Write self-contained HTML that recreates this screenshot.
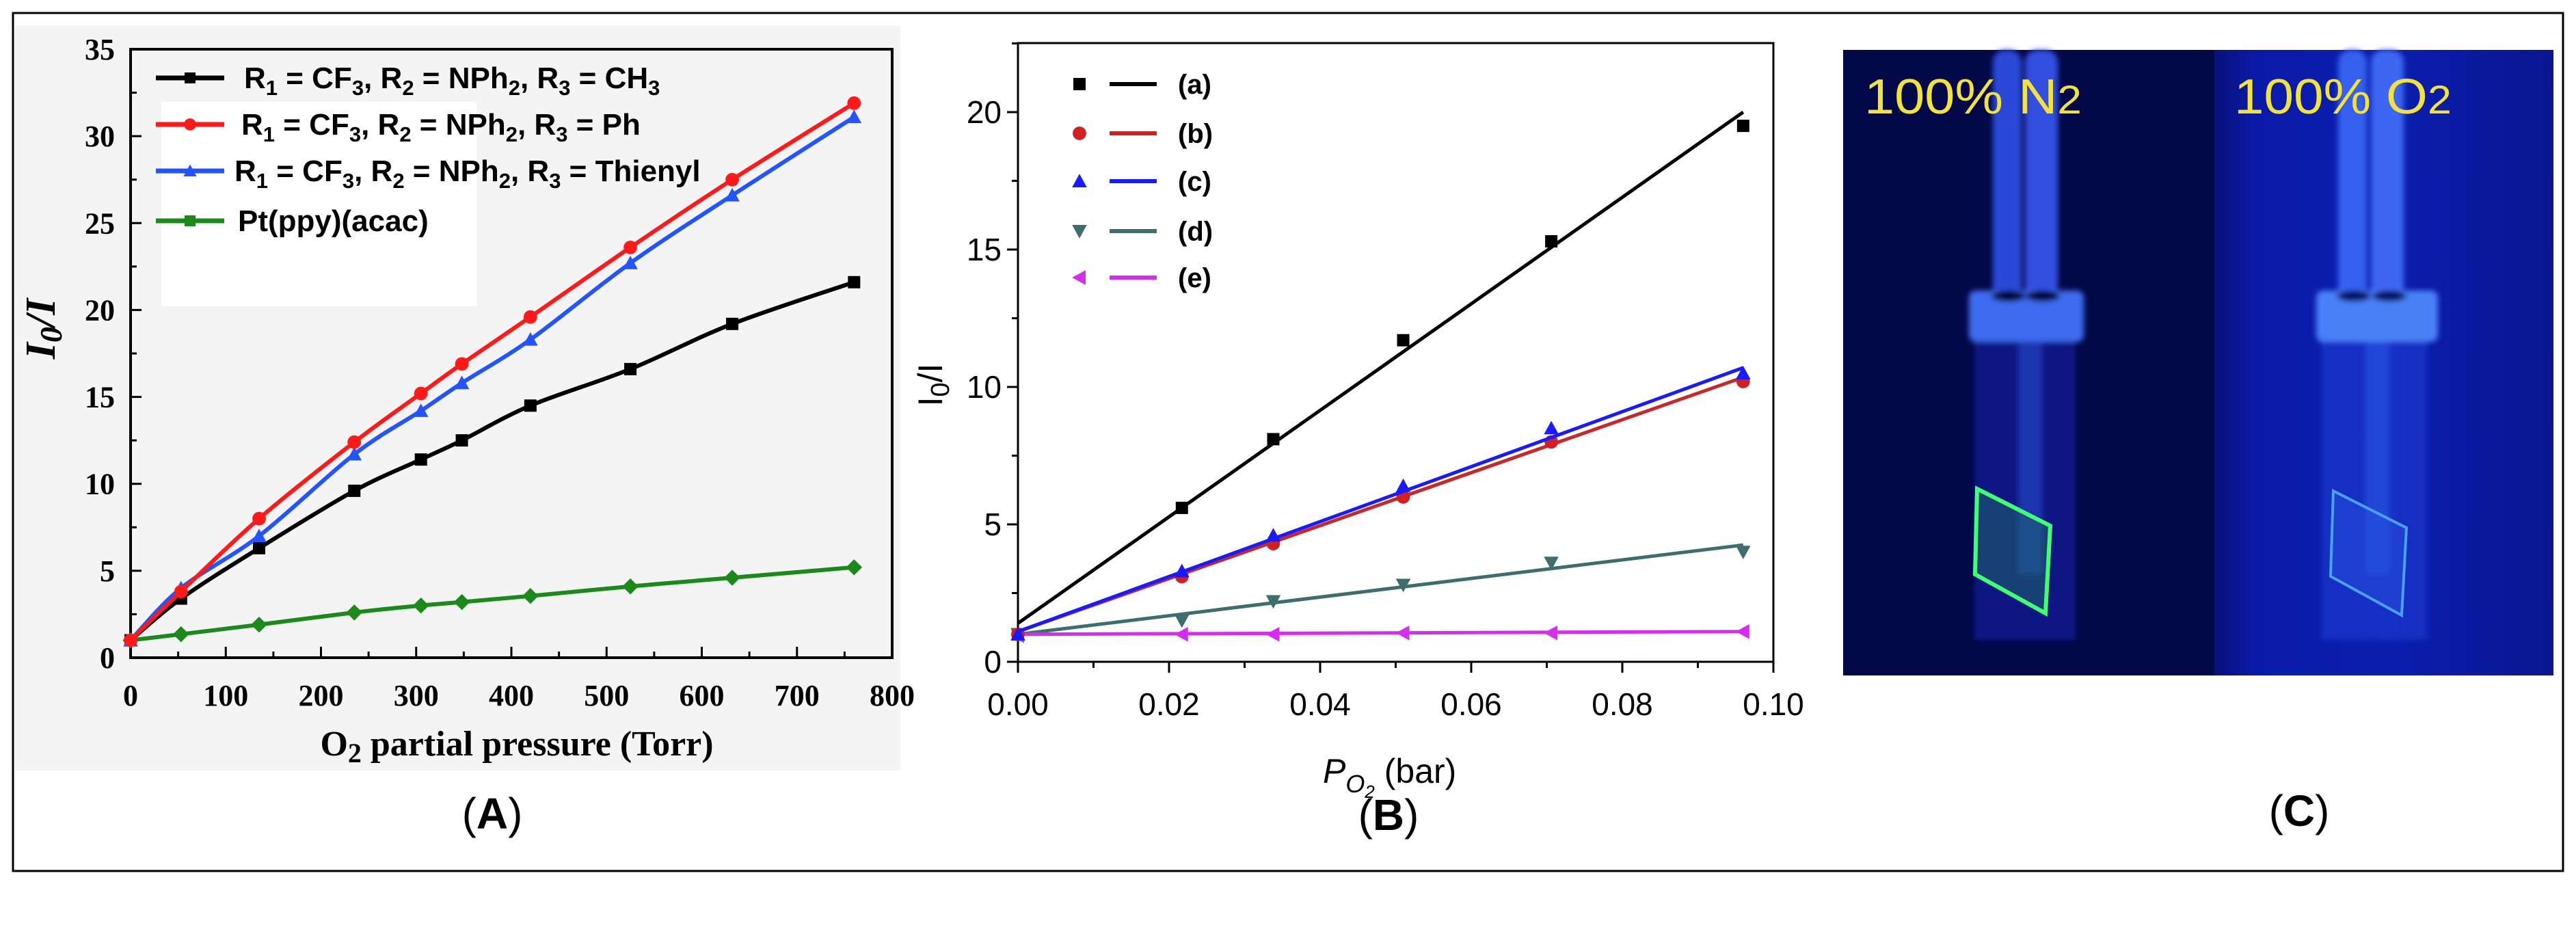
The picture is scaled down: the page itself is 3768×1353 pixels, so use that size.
<!DOCTYPE html>
<html><head><meta charset="utf-8">
<style>
html,body{margin:0;padding:0;background:#fff;}
svg{display:block;}
</style></head>
<body>
<svg id="fig" width="3768" height="1353" viewBox="0 0 3768 1353" xmlns="http://www.w3.org/2000/svg">
<defs>
<filter id="blur8"><feGaussianBlur stdDeviation="4"/></filter>
<linearGradient id="rightbg" x1="0" x2="1" y1="0" y2="0">
<stop offset="0" stop-color="#08107a"/><stop offset="0.12" stop-color="#0a1aa8"/><stop offset="0.5" stop-color="#0b1eb0"/><stop offset="1" stop-color="#0a1690"/>
</linearGradient>
</defs>
<rect x="19" y="19" width="3730" height="1255" fill="#fff" stroke="#000" stroke-width="3"/>

<g id="panelA">
<rect x="22" y="37" width="1295" height="1090" fill="#f4f4f4"/>
<g id="aAxes"></g>
<rect x="236" y="149" width="461" height="299" fill="#fff"/>
<g id="aSeries"></g>
<g id="aLegend" font-family="Liberation Sans, sans-serif" font-weight="bold" font-size="44" fill="#000"></g>
<text x="756" y="1105" text-anchor="middle" font-family="Liberation Serif, serif" font-weight="bold" font-size="52">O<tspan font-size="40" dy="10">2</tspan><tspan dy="-10"> partial pressure (Torr)</tspan></text>
<text transform="translate(80,481) rotate(-90)" text-anchor="middle" font-family="Liberation Serif, serif" font-weight="bold" font-style="italic" font-size="62">I<tspan font-size="46" dy="10">0</tspan><tspan dy="-10">/I</tspan></text>
<text x="720" y="1212" text-anchor="middle" font-family="Liberation Sans, sans-serif" font-size="64">(<tspan font-weight="bold">A</tspan>)</text>
</g>

<g id="panelB">
<g id="bAxes"></g>
<g id="bSeries"></g>
<g id="bLegend" font-family="Liberation Sans, sans-serif" font-weight="bold" font-size="40" fill="#000"></g>
<text x="1935" y="1145" font-family="Liberation Sans, sans-serif" font-size="50"><tspan font-style="italic">P</tspan><tspan font-style="italic" font-size="36" dy="14">O</tspan><tspan font-style="italic" font-size="26" dy="8">2</tspan><tspan dy="-22"> (bar)</tspan></text>
<text transform="translate(1378,563) rotate(-90)" text-anchor="middle" font-family="Liberation Sans, sans-serif" font-size="50">I<tspan font-size="38" dy="10">0</tspan><tspan dy="-10">/I</tspan></text>
<text x="2031" y="1214" text-anchor="middle" font-family="Liberation Sans, sans-serif" font-size="64">(<tspan font-weight="bold">B</tspan>)</text>
</g>

<g id="panelC">
<rect x="2696" y="73" width="543" height="915" fill="#030848"/>
<rect x="3239" y="73" width="496" height="915" fill="url(#rightbg)"/>
<g filter="url(#blur8)">
<rect x="2888" y="500" width="148" height="436" fill="#0f1c90" opacity="0.8"/>
<rect x="2915" y="73" width="42" height="370" rx="18" fill="#2a48d8"/>
<rect x="2962" y="73" width="48" height="370" rx="18" fill="#3050e0"/>
<rect x="2880" y="425" width="168" height="75" rx="10" fill="#3d6cf0"/>
<ellipse cx="2938" cy="433" rx="25" ry="8" fill="#020530"/>
<ellipse cx="2988" cy="433" rx="25" ry="8" fill="#020530"/>
<rect x="2952" y="500" width="35" height="340" fill="#2040c0" opacity="0.7"/>
</g>
<g filter="url(#blur8)">
<rect x="3395" y="500" width="155" height="436" fill="#1a34c8" opacity="0.8"/>
<rect x="3420" y="73" width="42" height="370" rx="18" fill="#3560f0"/>
<rect x="3468" y="73" width="48" height="370" rx="18" fill="#3d66f2"/>
<rect x="3388" y="425" width="178" height="75" rx="10" fill="#4a80f8"/>
<ellipse cx="3443" cy="433" rx="25" ry="8" fill="#061060"/>
<ellipse cx="3495" cy="433" rx="25" ry="8" fill="#061060"/>
<rect x="3460" y="500" width="35" height="340" fill="#2a50e0" opacity="0.7"/>
</g>
<polygon points="2892,715 2999,769 2992,897 2889,840" fill="#1f6a6a" fill-opacity="0.5" stroke="#40ff70" stroke-width="6"/>
<polygon points="3413,718 3520,772 3513,900 3409,843" fill="#2a55e0" fill-opacity="0.4" stroke="#4aa0ff" stroke-width="4"/>
<text x="2727" y="166" font-family="Liberation Sans, sans-serif" font-size="72" fill="#f2e23a" textLength="318" lengthAdjust="spacingAndGlyphs">100% N<tspan font-size="58">2</tspan></text>
<text x="3268" y="166" font-family="Liberation Sans, sans-serif" font-size="72" fill="#f2e23a" textLength="318" lengthAdjust="spacingAndGlyphs">100% O<tspan font-size="58">2</tspan></text>
<text x="3363" y="1208" text-anchor="middle" font-family="Liberation Sans, sans-serif" font-size="64">(<tspan font-weight="bold">C</tspan>)</text>
</g>
</svg>
<script>
// ---------- Panel A data ----------
const aX = [0, 53, 135, 235, 305, 348, 420, 525, 632, 760];
const aBlack = [1, 3.4, 6.3, 9.6, 11.4, 12.5, 14.5, 16.6, 19.2, 21.6];
const aRed = [1, 3.8, 8.0, 12.4, 15.2, 16.9, 19.6, 23.6, 27.5, 31.9];
const aBlue = [1, 4.0, 7.0, 11.7, 14.2, 15.8, 18.3, 22.7, 26.6, 31.1];
const aGreen = [1, 1.35, 1.9, 2.6, 3.0, 3.2, 3.55, 4.1, 4.6, 5.2];
const aXTicks = [0, 100, 200, 300, 400, 500, 600, 700, 800];
const aYTicks = [0, 5, 10, 15, 20, 25, 30, 35];
const aLegendLabels = ["R1 = CF3, R2 = NPh2, R3 = CH3", "R1 = CF3, R2 = NPh2, R3 = Ph", "R1 = CF3, R2 = NPh2, R3 = Thienyl", "Pt(ppy)(acac)"];
// ---------- Panel B data ----------
const bX = [0, 0.0217, 0.0338, 0.051, 0.0706, 0.096];
const bA = [1.0, 5.6, 8.1, 11.7, 15.3, 19.5];
const bB = [1.0, 3.1, 4.3, 6.0, 8.0, 10.2];
const bC = [1.0, 3.3, 4.6, 6.4, 8.5, 10.5];
const bD = [1.0, 1.5, 2.2, 2.8, 3.6, 4.0];
const bE = [0.95, 1.0, 1.0, 1.05, 1.05, 1.1];
const bFitA = [1.4, 20.0];
const bFitB = [1.1, 10.35];
const bFitC = [1.1, 10.7];
const bFitD = [1.0, 4.25];
const bFitE = [1.0, 1.1];
const bFitX = [0, 0.096];
const bXTicks = [0, 0.02, 0.04, 0.06, 0.08, 0.10];
const bXTickLabels = ["0.00", "0.02", "0.04", "0.06", "0.08", "0.10"];
const bYTicks = [0, 5, 10, 15, 20];
const bLegendLabels = ["(a)", "(b)", "(c)", "(d)", "(e)"];

const NS = "http://www.w3.org/2000/svg";
function mk(parent, tag, attrs) {
  const e = document.createElementNS(NS, tag);
  for (const k in attrs) e.setAttribute(k, attrs[k]);
  parent.appendChild(e);
  return e;
}
const ax = v => 191 + v * (1305 - 191) / 800;
const ay = v => 962 - v * (962 - 72) / 35;
const bx = v => 1489 + v * (2594 - 1489) / 0.10;
const by = v => 968 - v * (968 - 164) / 20;

function marker(g, type, x, y, s, color) {
  let e;
  if (type === "square") e = mk(g, "rect", {x: x - s, y: y - s, width: 2 * s, height: 2 * s, fill: color});
  else if (type === "circle") e = mk(g, "circle", {cx: x, cy: y, r: s * 1.1, fill: color});
  else if (type === "up") e = mk(g, "polygon", {points: `${x},${y - s * 1.2} ${x - s * 1.2},${y + s} ${x + s * 1.2},${y + s}`, fill: color});
  else if (type === "down") e = mk(g, "polygon", {points: `${x},${y + s * 1.2} ${x - s * 1.2},${y - s} ${x + s * 1.2},${y - s}`, fill: color});
  else if (type === "left") e = mk(g, "polygon", {points: `${x - s * 1.2},${y} ${x + s},${y - s * 1.2} ${x + s},${y + s * 1.2}`, fill: color});
  else if (type === "diamond") e = mk(g, "polygon", {points: `${x},${y - s * 1.3} ${x + s * 1.3},${y} ${x},${y + s * 1.3} ${x - s * 1.3},${y}`, fill: color});
  return e;
}
function smoothPath(pts) {
  let d = `M${pts[0][0]},${pts[0][1]}`;
  for (let i = 0; i < pts.length - 1; i++) {
    const p0 = pts[Math.max(0, i - 1)], p1 = pts[i], p2 = pts[i + 1], p3 = pts[Math.min(pts.length - 1, i + 2)];
    const c1 = [p1[0] + (p2[0] - p0[0]) / 6, p1[1] + (p2[1] - p0[1]) / 6];
    const c2 = [p2[0] - (p3[0] - p1[0]) / 6, p2[1] - (p3[1] - p1[1]) / 6];
    d += ` C${c1[0]},${c1[1]} ${c2[0]},${c2[1]} ${p2[0]},${p2[1]}`;
  }
  return d;
}

// ---- Panel A axes ----
const aAxes = document.getElementById("aAxes");
const frameA = mk(aAxes, "rect", {x: 191, y: 72, width: 1114, height: 890, fill: "none", stroke: "#000", "stroke-width": 4});


for (let v = 0; v <= 800; v += 50) {
  const major = v % 100 === 0;
  const t = mk(aAxes, "line", {x1: ax(v), x2: ax(v), y1: 962, y2: 962 - (major ? 16 : 9), stroke: "#000", "stroke-width": 3});
  
  
}
aXTicks.forEach(v => {
  const t = mk(aAxes, "text", {x: ax(v), y: 1032, "text-anchor": "middle", "font-family": "Liberation Serif, serif", "font-weight": "bold", "font-size": 44});
  t.textContent = v;
  
  
});
for (let v = 0; v <= 35; v += 2.5) {
  const major = v % 5 === 0;
  const t = mk(aAxes, "line", {x1: 191, x2: 191 + (major ? 16 : 9), y1: ay(v), y2: ay(v), stroke: "#000", "stroke-width": 3});
  
  
}
aYTicks.forEach(v => {
  const t = mk(aAxes, "text", {x: 168, y: ay(v) + 15, "text-anchor": "end", "font-family": "Liberation Serif, serif", "font-weight": "bold", "font-size": 44});
  t.textContent = v;
  
  
});

// ---- Panel A series ----
const aS = document.getElementById("aSeries");
const aSeriesDefs = [
  {vals: aBlack, color: "#000", m: "square", name: "series-ch3"},
  {vals: aGreen, color: "#1a8a1a", m: "diamond", name: "series-pt-ppy-acac"},
  {vals: aBlue, color: "#2255ff", m: "up", name: "series-thienyl"},
  {vals: aRed, color: "#ff1a1a", m: "circle", name: "series-ph"}
];
aSeriesDefs.forEach(s => {
  const g = mk(aS, "g", {});
  
  
  const pts = aX.map((x, i) => [ax(x), ay(s.vals[i])]);
  const p = mk(g, "path", {d: smoothPath(pts), fill: "none", stroke: s.color, "stroke-width": 6});
  
  
  pts.forEach(pt => {
    const m = marker(g, s.m, pt[0], pt[1], 9, s.color);
    
    
  });
});

// ---- Panel A legend ----
const aL = document.getElementById("aLegend");
const aLegColors = ["#000", "#ff1a1a", "#2255ff", "#1a8a1a"];
const aLegMarkers = ["square", "circle", "up", "square"];
const aLegY = [114, 182, 250, 323];
const aLegX = [357, 353, 343, 348];
aLegendLabels.forEach((lab, i) => {
  const g = mk(aL, "g", {});
  
  
  mk(g, "line", {x1: 228, x2: 328, y1: aLegY[i], y2: aLegY[i], stroke: aLegColors[i], "stroke-width": 7});
  marker(g, aLegMarkers[i], 278, aLegY[i], 8, aLegColors[i]);
  const t = mk(g, "text", {x: aLegX[i], y: aLegY[i] + 15});
  const parts = lab.split(/(\d)/).filter(p => p !== "");
  let sub = false;
  parts.forEach(p => {
    const isDigit = /^\d$/.test(p) && i < 3;
    const ts = mk(t, "tspan", {});
    if (isDigit) { ts.setAttribute("font-size", "31"); ts.setAttribute("dy", "10"); sub = true; }
    else if (sub) { ts.setAttribute("dy", "-10"); sub = false; }
    ts.textContent = p;
  });
});

// ---- Panel B axes ----
const bAxes = document.getElementById("bAxes");
const frameB = mk(bAxes, "rect", {x: 1489, y: 63, width: 1105, height: 905, fill: "none", stroke: "#000", "stroke-width": 3});


for (let k = 0; k <= 10; k++) {
  const v = k / 100;
  const major = k % 2 === 0;
  const t = mk(bAxes, "line", {x1: bx(v), x2: bx(v), y1: 968, y2: 968 + (major ? 16 : 9), stroke: "#000", "stroke-width": 3});
  
  
}
bXTicks.forEach((v, i) => {
  const t = mk(bAxes, "text", {x: bx(v), y: 1046, "text-anchor": "middle", "font-family": "Liberation Sans, sans-serif", "font-size": 46});
  t.textContent = bXTickLabels[i];
  
  
});
for (let v = 0; v <= 22.5; v += 2.5) {
  const major = v % 5 === 0;
  const t = mk(bAxes, "line", {x1: 1489, x2: 1489 - (major ? 16 : 9), y1: by(v), y2: by(v), stroke: "#000", "stroke-width": 3});
  
  
}
bYTicks.forEach(v => {
  const t = mk(bAxes, "text", {x: 1465, y: by(v) + 16, "text-anchor": "end", "font-family": "Liberation Sans, sans-serif", "font-size": 46});
  t.textContent = v;
  
  
});

// ---- Panel B series ----
const bS = document.getElementById("bSeries");
const bDefs = [
  {vals: bA, fit: bFitA, mc: "#000", lc: "#000", m: "square", name: "series-a"},
  {vals: bD, fit: bFitD, mc: "#3d6e6e", lc: "#3d6e6e", m: "down", name: "series-d"},
  {vals: bE, fit: bFitE, mc: "#d62cf0", lc: "#d62cf0", m: "left", name: "series-e"},
  {vals: bB, fit: bFitB, mc: "#d02020", lc: "#c8282a", m: "circle", name: "series-b"},
  {vals: bC, fit: bFitC, mc: "#1a1aff", lc: "#1a1aff", m: "up", name: "series-c"}
];
bDefs.forEach(s => {
  const g = mk(bS, "g", {});
  
  
  const l = mk(g, "line", {x1: bx(bFitX[0]), y1: by(s.fit[0]), x2: bx(bFitX[1]), y2: by(s.fit[1]), stroke: s.lc, "stroke-width": 5});
  
  
  bX.forEach((x, i) => {
    const m = marker(g, s.m, bx(x), by(s.vals[i]), 9, s.mc);
    
    
  });
});

// ---- Panel B legend ----
const bL = document.getElementById("bLegend");
const bLegColors = ["#000", "#d02020", "#1a1aff", "#3d6e6e", "#d62cf0"];
const bLegM = ["square", "circle", "up", "down", "left"];
const bLegY = [123, 195, 265, 338, 406];
bLegendLabels.forEach((lab, i) => {
  const g = mk(bL, "g", {});
  
  
  marker(g, bLegM[i], 1579, bLegY[i], 9, bLegColors[i]);
  mk(g, "line", {x1: 1623, x2: 1692, y1: bLegY[i], y2: bLegY[i], stroke: bLegColors[i], "stroke-width": 6});
  const t = mk(g, "text", {x: 1723, y: bLegY[i] + 14});
  t.textContent = lab;
});
</script>
</body></html>
